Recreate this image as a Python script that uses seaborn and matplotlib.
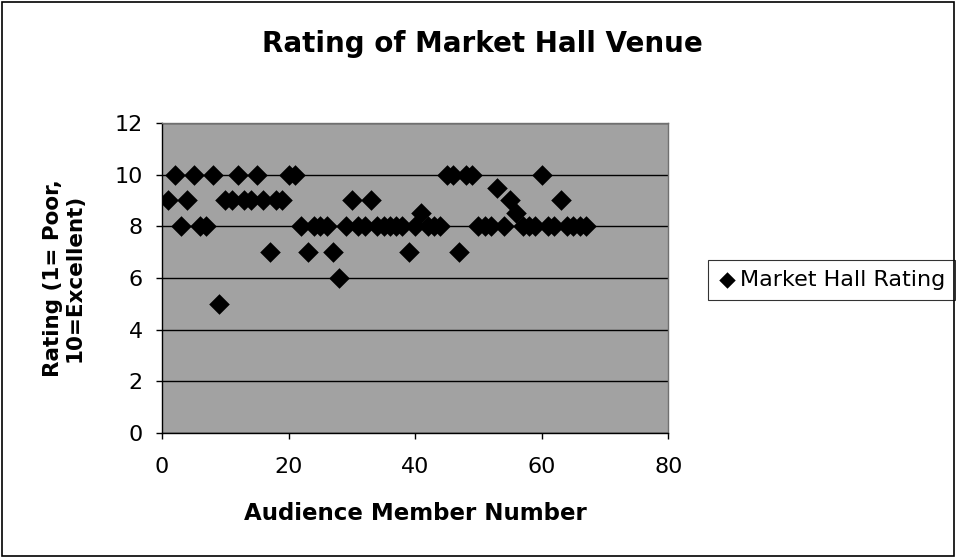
import matplotlib
matplotlib.use("Agg")
import matplotlib.pyplot as plt
import seaborn as sns
import pandas as pd
from matplotlib.patches import Rectangle

# Audience member numbers and their venue ratings
members = list(range(1, 68))
ratings = [
    9, 10, 8, 9, 10, 8, 8, 10, 5, 9,
    9, 10, 9, 9, 10, 9, 7, 9, 9, 10,
    10, 8, 7, 8, 8, 8, 7, 6, 8, 9,
    8, 8, 9, 8, 8, 8, 8, 8, 7, 8,
    8.5, 8, 8, 8, 10, 10, 7, 10, 10, 8,
    8, 8, 9.5, 8, 9, 8.5, 8, 8, 8, 10,
    8, 8, 9, 8, 8, 8, 8,
]
x_ticks = [0, 20, 40, 60, 80]
y_ticks = [0, 2, 4, 6, 8, 10, 12]

df = pd.DataFrame({"Audience Member Number": members,
                   "Market Hall Rating": ratings})

sns.set_theme(style="white", rc={"text.color": "black",
                                 "axes.labelcolor": "black",
                                 "xtick.color": "black",
                                 "ytick.color": "black"})
plt.rcParams["font.family"] = ["DejaVu Sans"]

fig = plt.figure(figsize=(9.56, 5.58), dpi=100)
ax = fig.add_axes([0.1695, 0.224, 0.5295, 0.5556])
ax.set_facecolor("#a2a2a2")

sns.scatterplot(data=df, x="Audience Member Number", y="Market Hall Rating",
                marker="D", s=110, color="black", edgecolor="black",
                linewidth=0, ax=ax, label="Market Hall Rating", zorder=3)

ax.set_xlim(0, 80)
ax.set_ylim(0, 12)
ax.set_xticks(x_ticks)
ax.set_yticks(y_ticks)
ax.yaxis.grid(True, color="black", linewidth=1.0)
ax.set_axisbelow(True)
ax.tick_params(axis="both", which="major", labelsize=16, length=4,
               width=1, color="black", direction="out", pad=10,
               bottom=True, left=True)
ax.tick_params(axis="x", pad=13)
for side in ("left", "bottom"):
    ax.spines[side].set_color("black")
    ax.spines[side].set_linewidth(1.0)
for side in ("top", "right"):
    ax.spines[side].set_color("#707070")
    ax.spines[side].set_linewidth(1.0)

ax.set_xlabel("Audience Member Number", fontsize=16.5, fontweight="bold",
              labelpad=18)
ax.set_ylabel("Rating (1= Poor,\n10=Excellent)", fontsize=15.5,
              fontweight="bold", labelpad=21, linespacing=1.1)

fig.text(0.505, 0.921, "Rating of Market Hall Venue", ha="center",
         va="center", fontsize=20, fontweight="bold")

leg = ax.legend(loc="center left", bbox_to_anchor=(0.7405, 0.4985),
                bbox_transform=fig.transFigure, frameon=True, fontsize=16,
                handletextpad=0.2, borderpad=0.45, handlelength=0.8,
                borderaxespad=0, markerscale=0.8, fancybox=False)
leg.get_frame().set_edgecolor("black")
leg.get_frame().set_linewidth(0.8)

# Outer chart border
fig.patches.append(Rectangle((0.002, 0.003), 0.996, 0.994,
                             transform=fig.transFigure, fill=False,
                             edgecolor="black", linewidth=1.2))

fig.savefig("out.png", dpi=100)
